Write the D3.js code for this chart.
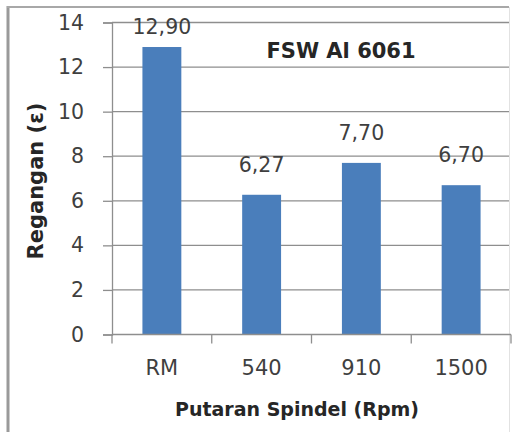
<!DOCTYPE html>
<html>
<head>
<meta charset="utf-8">
<script src="https://cdn.jsdelivr.net/npm/d3@7/dist/d3.min.js"></script>
<style>
  html, body { margin: 0; padding: 0; background: #fff; }
  svg { display: block; }
</style>
</head>
<body>
<svg id="chart" width="514" height="432"></svg>
<script>
const categories = ["RM", "540", "910", "1500"];
const values = [12.90, 6.27, 7.70, 6.70];
const valueLabels = ["12,90", "6,27", "7,70", "6,70"];
const yTicks = [0, 2, 4, 6, 8, 10, 12, 14];
const chartTitle = "FSW Al 6061";
const xTitle = "Putaran Spindel (Rpm)";
const yTitle = "Regangan (\u03B5)";

const svg = d3.select("#chart");
const W = 514, H = 432;
const plot = { left: 112, right: 511, top: 22.5, bottom: 334.5 };
const font = "'DejaVu Sans', sans-serif";
const textColor = "#3f3f3f";
const gridColor = "#8e8e8e";
const barColor = "#4a7ebb";

svg.append("rect").attr("width", W).attr("height", H).attr("fill", "#fff");

// outer frame
svg.append("line").attr("x1", 8).attr("x2", 8).attr("y1", 6).attr("y2", H)
  .attr("stroke", "#9a9a9a").attr("stroke-width", 3);
svg.append("line").attr("x1", 7).attr("x2", 509).attr("y1", 7).attr("y2", 7)
  .attr("stroke", "#a8a8a8").attr("stroke-width", 2);
svg.append("line").attr("x1", 509.5).attr("x2", 509.5).attr("y1", 7).attr("y2", H)
  .attr("stroke", "#e2e2e2").attr("stroke-width", 1);

const y = d3.scaleLinear().domain([0, 14]).range([plot.bottom, plot.top]);
const x = d3.scaleBand().domain(categories).range([plot.left, plot.right])
  .paddingInner(0.61).paddingOuter(0.305);

// gridlines
svg.append("g").selectAll("line").data(yTicks.filter(d => d > 0)).join("line")
  .attr("x1", plot.left).attr("x2", 509)
  .attr("y1", d => y(d)).attr("y2", d => y(d))
  .attr("stroke", gridColor).attr("stroke-width", 1.3);

// y axis
const yAxis = svg.append("g").attr("transform", `translate(${plot.left},0)`)
  .call(d3.axisLeft(y).tickValues(yTicks).tickSize(9).tickPadding(19).tickFormat(d3.format("d")));
yAxis.select(".domain").attr("stroke", gridColor).attr("stroke-width", 1.3);
yAxis.selectAll(".tick line").attr("stroke", gridColor).attr("stroke-width", 1.3);
yAxis.selectAll(".tick text").attr("font-family", font).attr("font-size", 20.5)
  .attr("fill", textColor);

// bars
svg.append("g").selectAll("rect").data(values).join("rect")
  .attr("x", (d, i) => x(categories[i]))
  .attr("width", x.bandwidth())
  .attr("y", d => y(d))
  .attr("height", d => y(0) - y(d))
  .attr("fill", barColor);

// x axis line and boundary ticks
const xAxisG = svg.append("g");
xAxisG.append("line").attr("x1", plot.left).attr("x2", plot.right)
  .attr("y1", y(0)).attr("y2", y(0)).attr("stroke", gridColor).attr("stroke-width", 1.3);
const boundaries = d3.range(categories.length + 1).map(i => plot.left + i * x.step());
xAxisG.selectAll("line.b").data(boundaries).join("line").attr("class", "b")
  .attr("x1", d => d).attr("x2", d => d)
  .attr("y1", y(0)).attr("y2", y(0) + 9)
  .attr("stroke", gridColor).attr("stroke-width", 1.3);
xAxisG.selectAll("text").data(categories).join("text")
  .attr("x", d => x(d) + x.bandwidth() / 2).attr("y", 375)
  .attr("text-anchor", "middle").attr("font-family", font).attr("font-size", 21)
  .attr("fill", textColor).text(d => d);

// data labels
svg.append("g").selectAll("text").data(values).join("text")
  .attr("x", (d, i) => x(categories[i]) + x.bandwidth() / 2)
  .attr("y", d => Math.max(y(d) - 23, 34))
  .attr("text-anchor", "middle").attr("font-family", font).attr("font-size", 20.5)
  .attr("fill", textColor).text((d, i) => valueLabels[i]);

// chart title
svg.append("text").attr("x", 341).attr("y", 58).attr("text-anchor", "middle")
  .attr("font-family", font).attr("font-size", 21).attr("font-weight", "bold")
  .attr("fill", "#262626").text(chartTitle);

// axis titles
svg.append("text").attr("x", 297).attr("y", 416).attr("text-anchor", "middle")
  .attr("font-family", font).attr("font-size", 19).attr("font-weight", "bold")
  .attr("fill", "#262626").text(xTitle);
svg.append("text").attr("transform", "translate(43,181) rotate(-90)")
  .attr("text-anchor", "middle").attr("font-family", font).attr("font-size", 21)
  .attr("font-weight", "bold").attr("fill", "#262626").text(yTitle);
</script>
</body>
</html>
